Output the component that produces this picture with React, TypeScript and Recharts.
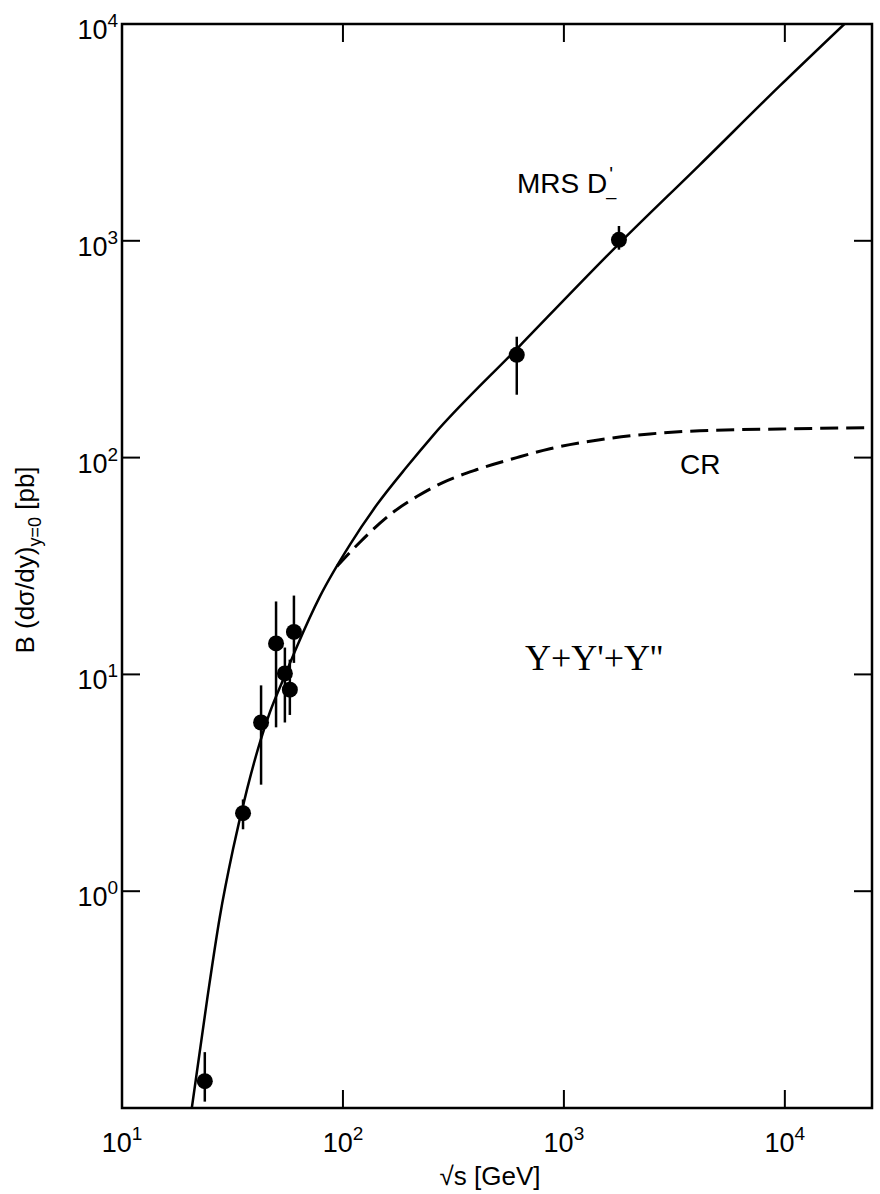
import {
  ComposedChart,
  Line,
  Scatter,
  ErrorBar,
  XAxis,
  YAxis,
  ReferenceArea } from
"recharts";

// measured points: sqrt(s) in GeV, B dsigma/dy in pb
const sqrtS = [23.7, 35.3, 42.6, 49.8, 54.6, 57.5, 60.0, 612, 1775];
const sigma = [0.133, 2.29, 6.0, 13.9, 10.1, 8.5, 15.7, 298, 1010];
const sigmaLo = [0.107, 1.93, 3.1, 5.7, 6.0, 6.5, 11.3, 195, 910];
const sigmaHi = [0.181, 2.65, 8.9, 21.7, 13.3, 11.7, 23.1, 361, 1170];

// MRS D-' curve (solid)
const mrsX = [20.7, 24.3, 27.7, 31.8, 36.8, 42.1, 46.7, 53.6, 62.0, 78.7, 107.6, 142.6, 195, 255, 619, 1775, 4120, 9480, 18600];
const mrsY = [0.1, 0.318, 0.759, 1.56, 2.95, 4.86, 6.69, 9.45, 13.5, 22.9, 39.7, 60.7, 90.9, 126, 321, 969, 2240, 5180, 10000];

// CR curve (dashed)
const crX = [94, 119, 168, 216, 283, 404, 612, 865, 1455, 2450, 4120, 9480, 24800];
const crY = [31.5, 40.6, 55.8, 66.1, 76.7, 88.1, 100, 109.9, 121, 128.6, 133, 135.5, 137.6];

const xTicks = [10, 100, 1000, 10000];
const yTicks = [1, 10, 100, 1000, 10000];
const xDomain = [10, 24800];
const yDomain = [0.1, 10000];

const W = 880;
const H = 1194;
const PLOT_LEFT = 122;
const PLOT_RIGHT = 872;
const PLOT_TOP = 24;
const PLOT_BOTTOM = 1108;
const TICK_LEN = 18;
const FONT = "'Liberation Sans', Arial, Helvetica, sans-serif";

const points = sqrtS.map((x, i) => ({
  x,
  y: sigma[i],
  err: [sigma[i] - sigmaLo[i], sigmaHi[i] - sigma[i]]
}));
const mrsData = mrsX.map((x, i) => ({ x, y: mrsY[i] }));
const crData = crX.map((x, i) => ({ x, y: crY[i] }));

function XTick(props: any) {
  const { x, payload } = props;
  const exp = Math.round(Math.log10(payload.value));
  return (
    <g>
      <line x1={x} x2={x} y1={PLOT_BOTTOM} y2={PLOT_BOTTOM - TICK_LEN} stroke="#000" strokeWidth={2} />
      <line x1={x} x2={x} y1={PLOT_TOP} y2={PLOT_TOP + TICK_LEN} stroke="#000" strokeWidth={2} />
      <text x={x} y={1152} textAnchor="middle" fontSize={27} fontFamily={FONT} fill="#000">
        10<tspan dy={-12} fontSize={19}>{exp}</tspan>
      </text>
    </g>);
}

function YTick(props: any) {
  const { y, payload } = props;
  const exp = Math.round(Math.log10(payload.value));
  return (
    <g>
      <line x1={PLOT_LEFT} x2={PLOT_LEFT + TICK_LEN} y1={y} y2={y} stroke="#000" strokeWidth={2} />
      <line x1={PLOT_RIGHT - TICK_LEN} x2={PLOT_RIGHT} y1={y} y2={y} stroke="#000" strokeWidth={2} />
      <text x={PLOT_LEFT - 4} y={y + 15} textAnchor="end" fontSize={27} fontFamily={FONT} fill="#000">
        10<tspan dy={-12} fontSize={19}>{exp}</tspan>
      </text>
    </g>);
}

const Dot = (props: any) =>
<circle cx={props.cx} cy={props.cy} r={8} fill="#000" />;

export default function App() {
  return (
    <div style={{ position: "absolute", left: 0, top: 0, width: W, height: H, background: "#fff" }}>
      <ComposedChart
        width={W}
        height={H}
        margin={{ top: PLOT_TOP, right: W - PLOT_RIGHT, bottom: 0, left: 0 }}>
        <XAxis
          dataKey="x"
          type="number"
          scale="log"
          domain={xDomain}
          ticks={xTicks}
          allowDataOverflow
          axisLine={false}
          tickLine={false}
          height={H - PLOT_BOTTOM}
          tick={XTick} />
        <YAxis
          type="number"
          scale="log"
          domain={yDomain}
          ticks={yTicks}
          allowDataOverflow
          axisLine={false}
          tickLine={false}
          width={PLOT_LEFT}
          tick={YTick} />
        <ReferenceArea
          x1={xDomain[0]}
          x2={xDomain[1]}
          y1={yDomain[0]}
          y2={yDomain[1]}
          fill="none"
          fillOpacity={0}
          stroke="#000"
          strokeWidth={2.5}
          ifOverflow="visible" />
        <Line
          data={crData}
          dataKey="y"
          type="monotone"
          stroke="#000"
          strokeWidth={3}
          strokeDasharray="18 8"
          dot={false}
          isAnimationActive={false} />
        <Line
          data={mrsData}
          dataKey="y"
          type="monotone"
          stroke="#000"
          strokeWidth={2.5}
          dot={false}
          isAnimationActive={false} />
        <Scatter data={points} dataKey="y" shape={Dot} isAnimationActive={false}>
          <ErrorBar dataKey="err" direction="y" width={0} stroke="#000" strokeWidth={2.5} />
        </Scatter>
      </ComposedChart>
      <svg
        width={W}
        height={H}
        style={{ position: "absolute", left: 0, top: 0, pointerEvents: "none" }}>
        <text x={517} y={193} fontSize={28} fontFamily={FONT} fill="#000">
          MRS D<tspan dx={-1} dy={2} fontSize={18}>_</tspan><tspan dx={-7} dy={-14} fontSize={20}>'</tspan>
        </text>
        <text x={680} y={474} fontSize={28} fontFamily={FONT} fill="#000">CR</text>
        <text x={525} y={670} fontSize={36} fontFamily="'Liberation Serif', 'Times New Roman', serif" fill="#000">
          Y+Y'+Y''
        </text>
        <text
          x={34}
          y={560}
          transform="rotate(-90, 34, 560)"
          textAnchor="middle"
          fontSize={26}
          fontFamily={FONT}
          fill="#000">
          B (dσ/dy)<tspan dy={7} fontSize={18}>y=0</tspan><tspan dy={-7}> [pb]</tspan>
        </text>
        <text x={490} y={1185} textAnchor="middle" fontSize={26} fontFamily={FONT} fill="#000">
          √s [GeV]
        </text>
      </svg>
    </div>);
}
